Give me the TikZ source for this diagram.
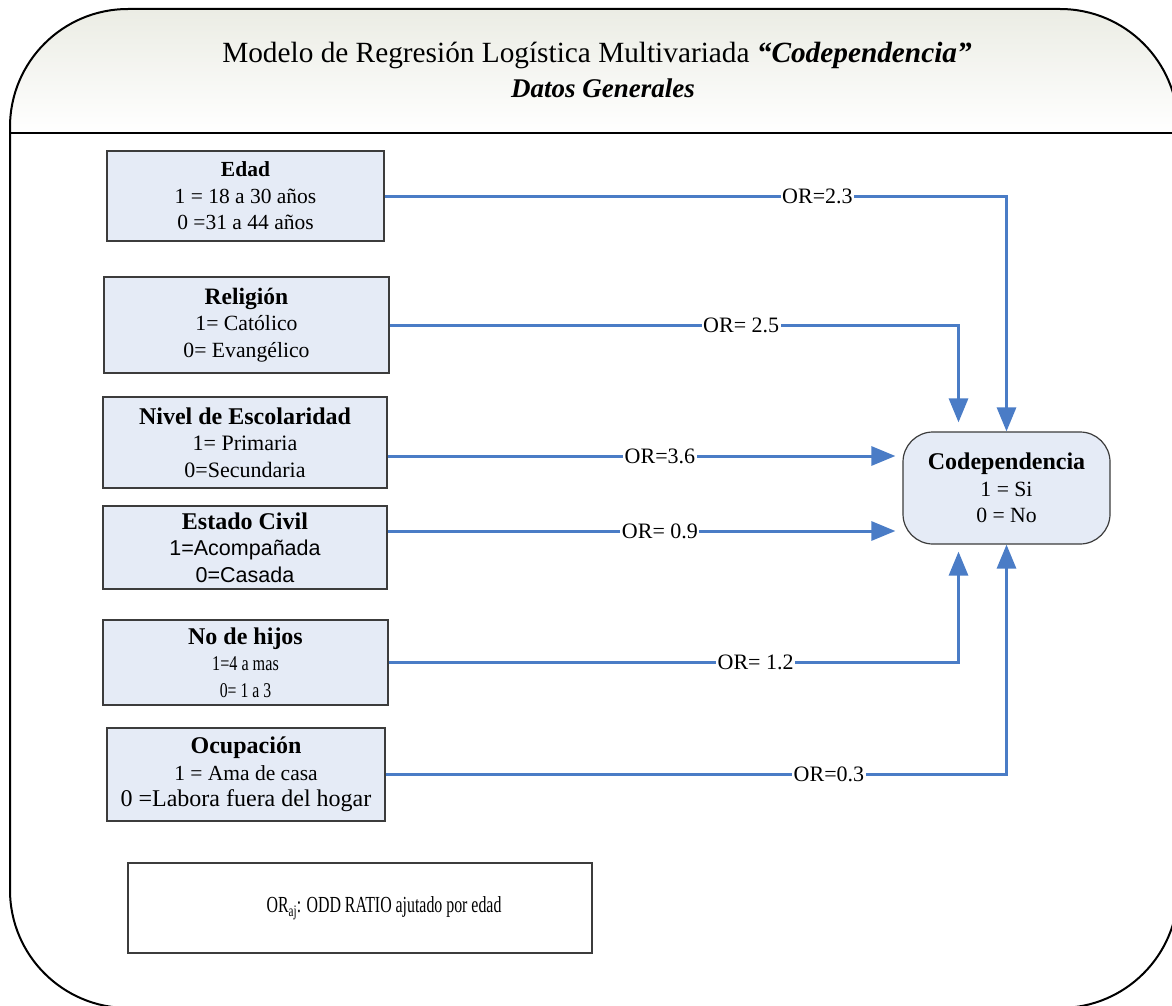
\documentclass[tikz,border=0pt]{standalone}
\usepackage{graphicx}
\usepackage{fontspec}
\setmainfont{Liberation Serif}
\newfontfamily\arialf{Liberation Sans}
\usetikzlibrary{arrows.meta}
\definecolor{boxfill}{HTML}{E5EBF6}
\definecolor{arrowblue}{HTML}{4A7CC6}
\definecolor{hdrtop}{HTML}{EBECE4}
\definecolor{boxline}{HTML}{3C3C3C}
\newcommand\setfs[1]{\fontsize{#1}{26.5}\selectfont}
\tikzset{
  varbox/.style={draw=boxline, line width=1.2pt, fill=boxfill, align=center, inner sep=0pt},
  link/.style={draw=arrowblue, line width=3pt, -{Triangle[length=24pt,width=19pt]}},
  orlabel/.style={fill=white, inner sep=1.5pt, font=\fontsize{22}{24}\selectfont},
}
\begin{document}
\begin{tikzpicture}[x=1pt, y=-1pt]
\useasboundingbox (0,0) rectangle (1172,1006);
% header gradient
\begin{scope}
  \clip (0,0) rectangle (1172,1006);
  \clip (10,133) -- (10,127) .. controls (10,61.8) and (62.8,9) .. (128,9)
     -- (1060,9) .. controls (1125.2,9) and (1178,61.8) .. (1178,127) -- (1178,133) -- cycle;
  \shade[top color=hdrtop, bottom color=white] (0,9) rectangle (1180,133);
\end{scope}
\begin{scope}
  \clip (0,0) rectangle (1172,1006);
  \draw[line width=2pt] (10,133) -- (1172,133);
  % outer frame (its right edge lies beyond the page)
  \draw[line width=2pt] (1178,127) .. controls (1178,61.8) and (1125.2,9) .. (1060,9)
     -- (128,9) .. controls (62.8,9) and (10,61.8) .. (10,127)
     -- (10,890) .. controls (10,955.2) and (62.8,1008) .. (128,1008)
     -- (1060,1008) .. controls (1125.2,1008) and (1178,955.2) .. (1178,890);
\end{scope}

\node[anchor=base, font=\fontsize{29.3}{34}\selectfont] (title) at (597,63)
  {Modelo de Regresión Logística Multivariada \textbf{\textit{“Codependencia”}}};
\node[anchor=base, font=\fontsize{27}{32}\selectfont] (subtitle) at (603,98)
  {\textbf{\textit{Datos Generales}}};

% variable boxes
\node[varbox, minimum width=277pt, minimum height=90pt, font=\setfs{21.5}] (edad) at (245.5,196)
  {\textbf{Edad}\\1 = 18 a 30 años\\0 =31 a 44 años};
\node[varbox, minimum width=285pt, minimum height=96pt, font=\setfs{21.7}] (relig) at (246.5,325)
  {{\fontsize{23.5}{26.5}\selectfont\textbf{Religión}}\\1= Católico\\0= Evangélico};
\node[varbox, minimum width=284pt, minimum height=91pt, font=\setfs{22}] (nivel) at (245,442.5)
  {{\fontsize{24}{26.5}\selectfont\textbf{Nivel de Escolaridad}}\\1= Primaria\\0=Secundaria};
\node[varbox, minimum width=284pt, minimum height=83pt, font=\setfs{21.5}] (civil) at (245,547.5)
  {{\fontsize{24}{26.5}\selectfont\textbf{Estado Civil}}\\{\arialf 1=Acompañada}\\{\arialf 0=Casada}};
\node[varbox, minimum width=285pt, minimum height=85pt, font=\setfs{21}] (hijos) at (245.5,662.5)
  {{\fontsize{24}{26.5}\selectfont\textbf{No de hijos}}\\\scalebox{0.77}[1]{1=4 a mas}\\\scalebox{0.75}[1]{0= 1 a 3}};
\node[varbox, minimum width=278pt, minimum height=93pt, font=\setfs{21.5}] (ocup) at (246,774.5)
  {{\fontsize{24}{26.5}\selectfont\textbf{Ocupación}}\\1 = Ama de casa\\{\fontsize{24}{26.5}\selectfont 0 =Labora fuera del hogar}};

% outcome box
\node[varbox, rounded corners=30pt, minimum width=207pt, minimum height=112pt, font=\setfs{21.7}] (cod) at (1006.5,488)
  {{\fontsize{24}{26.5}\selectfont\textbf{Codependencia}}\\1 = Si\\0 = No};

% legend
\node[draw=boxline, line width=1.2pt, fill=white, minimum width=464pt, minimum height=90pt,
      font=\fontsize{23}{26}\selectfont] (leg) at (360,908)
  {\hspace*{48pt}\scalebox{0.69}[1]{OR\textsubscript{aj}: ODD RATIO ajutado por edad}};

% connectors
\coordinate (nivS) at ([yshift=-13.5pt]nivel.east);
\coordinate (civS) at ([yshift=16.5pt]civil.east);
\coordinate (codNL) at ([xshift=-48pt]cod.north);
\coordinate (codSL) at ([xshift=-48pt]cod.south);

\draw[link] (edad.east) -| node[orlabel, pos=0.348] (l1) {OR=2.3} (cod.north);
\draw[link, shorten >=9pt] (relig.east) -| node[orlabel, pos=0.309] (l2) {OR= 2.5} (codNL);
\draw[link, shorten >=7pt] (nivS) -- node[orlabel, pos=0.529] (l3) {OR=3.6} (nivS -| cod.west);
\draw[link, shorten >=7pt] (civS) -- node[orlabel, pos=0.529] (l4) {OR= 0.9} (civS -| cod.west);
\draw[link, shorten >=7pt] (hijos.east) -| node[orlabel, pos=0.322] (l5) {OR= 1.2} (codSL);
\draw[link] (ocup.east) -| node[orlabel, pos=0.357] (l6) {OR=0.3} (cod.south);
\end{tikzpicture}
\end{document}
